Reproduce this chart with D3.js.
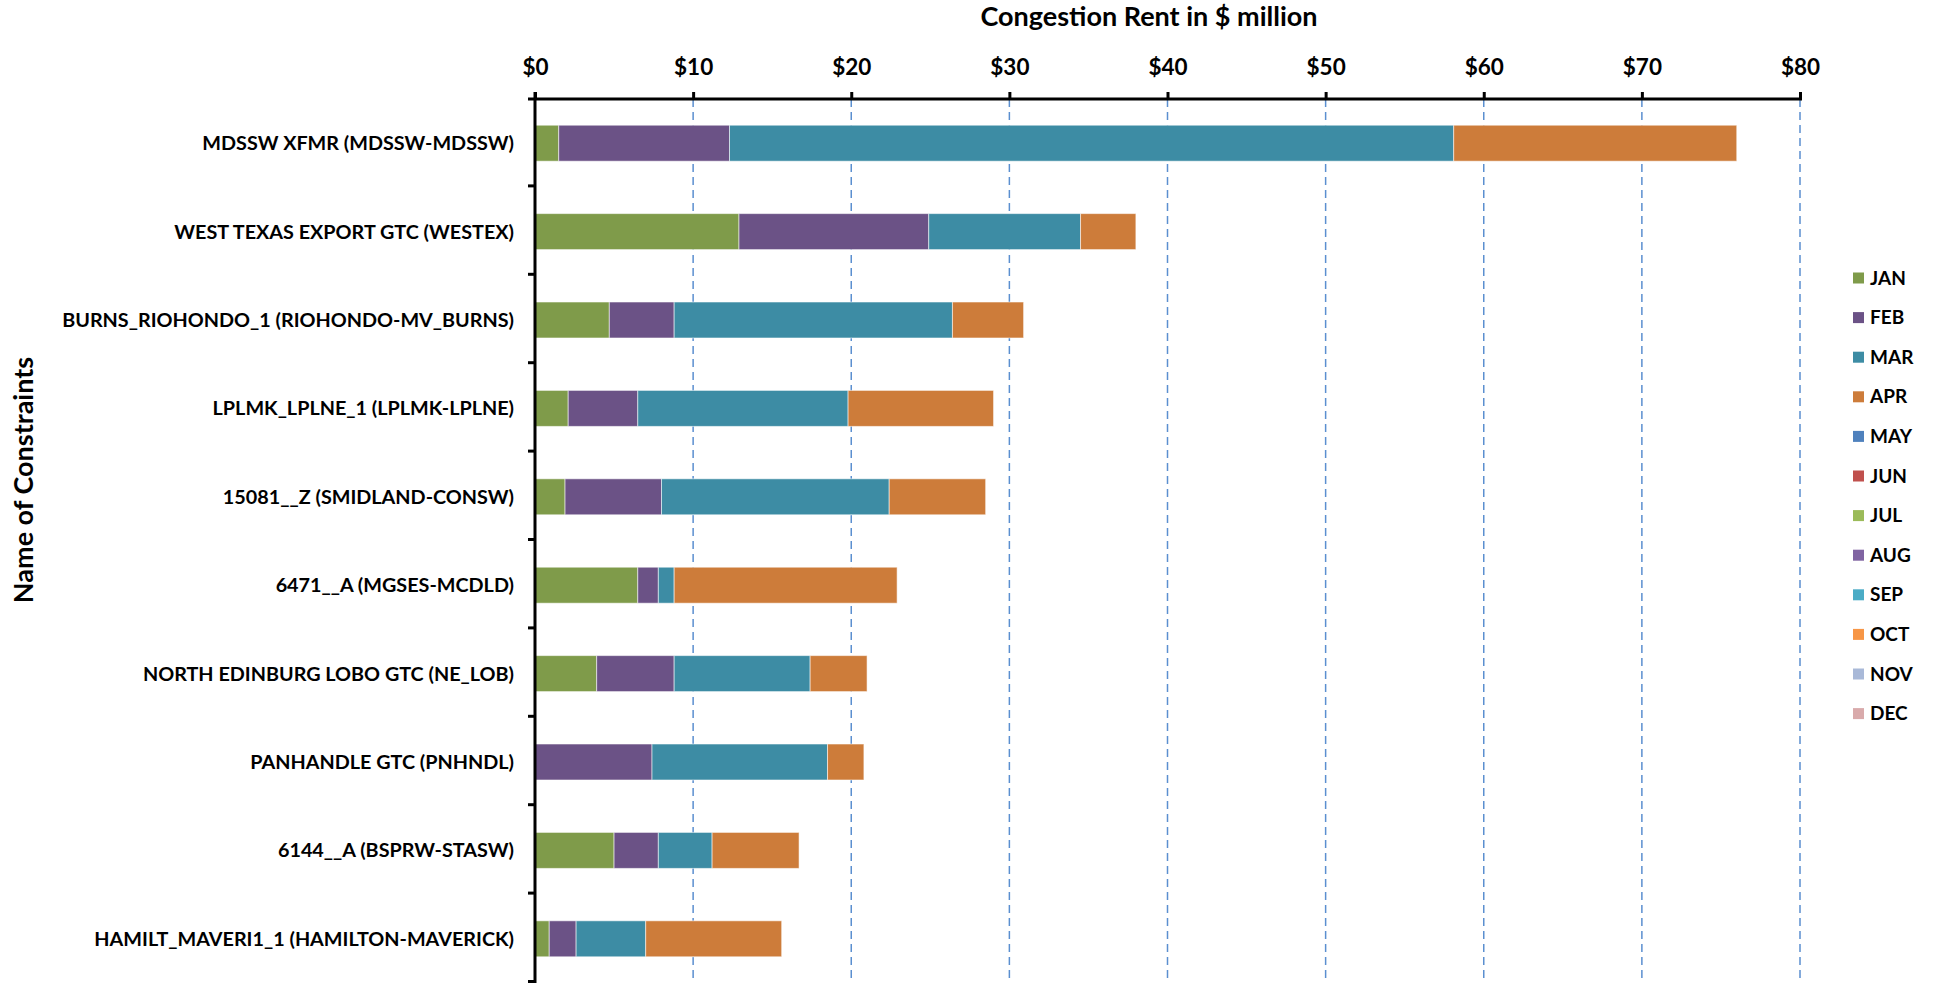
<!DOCTYPE html>
<html>
<head>
<meta charset="utf-8">
<script src="https://cdn.jsdelivr.net/npm/d3@7"></script>
<style>
  body { margin: 0; background: #fff; }
  svg text { font-family: Lato, "Open Sans", sans-serif; font-weight: bold; fill: #000; }
</style>
</head>
<body>
<div id="chart"></div>
<script>
(function() {
    const categories = [
        'MDSSW XFMR (MDSSW-MDSSW)',
        'WEST TEXAS EXPORT GTC (WESTEX)',
        'BURNS_RIOHONDO_1 (RIOHONDO-MV_BURNS)',
        'LPLMK_LPLNE_1 (LPLMK-LPLNE)',
        '15081__Z (SMIDLAND-CONSW)',
        '6471__A (MGSES-MCDLD)',
        'NORTH EDINBURG LOBO GTC (NE_LOB)',
        'PANHANDLE GTC (PNHNDL)',
        '6144__A (BSPRW-STASW)',
        'HAMILT_MAVERI1_1 (HAMILTON-MAVERICK)'
    ];
    const months = ['JAN', 'FEB', 'MAR', 'APR', 'MAY', 'JUN', 'JUL', 'AUG', 'SEP', 'OCT', 'NOV', 'DEC'];
    const monthColors = ['#7f9b4a', '#6b5286', '#3d8ca4', '#cd7c3a', '#4f81bd', '#c0504d',
                         '#9bbb59', '#8064a2', '#4bacc6', '#f79646', '#a9b9d8', '#d9aaab'];

    // congestion rent, $ million, one array per month (same order as categories)
    const jan = [1.5, 12.9, 4.7, 2.1, 1.9, 6.5, 3.9, 0, 5.0, 0.9];
    const feb = [10.8, 12.0, 4.1, 4.4, 6.1, 1.3, 4.9, 7.4, 2.8, 1.7];
    const mar = [45.8, 9.6, 17.6, 13.3, 14.4, 1.0, 8.6, 11.1, 3.4, 4.4];
    const apr = [17.9, 3.5, 4.5, 9.2, 6.1, 14.1, 3.6, 2.3, 5.5, 8.6];
    const may = [0, 0, 0, 0, 0, 0, 0, 0, 0, 0];
    const jun = [0, 0, 0, 0, 0, 0, 0, 0, 0, 0];
    const jul = [0, 0, 0, 0, 0, 0, 0, 0, 0, 0];
    const aug = [0, 0, 0, 0, 0, 0, 0, 0, 0, 0];
    const sep = [0, 0, 0, 0, 0, 0, 0, 0, 0, 0];
    const oct = [0, 0, 0, 0, 0, 0, 0, 0, 0, 0];
    const nov = [0, 0, 0, 0, 0, 0, 0, 0, 0, 0];
    const dec = [0, 0, 0, 0, 0, 0, 0, 0, 0, 0];
    const xTicks = [0, 10, 20, 30, 40, 50, 60, 70, 80];

    const series = [jan, feb, mar, apr, may, jun, jul, aug, sep, oct, nov, dec];
    const rows = categories.map((c, i) => {
        const r = { name: c };
        months.forEach((m, j) => { r[m] = series[j][i]; });
        return r;
    });

    const W = 1938, H = 985;
    const margin = { top: 99, right: 138, bottom: 2, left: 535 };
    const svg = d3.select('#chart').append('svg').attr('width', W).attr('height', H);

    const x = d3.scaleLinear().domain([0, 80]).range([margin.left, W - margin.right]);
    const y = d3.scaleBand().domain(categories).range([margin.top, H - margin.bottom])
        .paddingInner(0.593).paddingOuter(0.2965);
    const color = d3.scaleOrdinal().domain(months).range(monthColors);

    // dashed gridlines
    svg.append('g').selectAll('line').data(xTicks.filter(d => d > 0)).enter().append('line')
        .attr('x1', d => x(d)).attr('x2', d => x(d))
        .attr('y1', margin.top).attr('y2', H - margin.bottom)
        .attr('stroke', '#5b8fd0').attr('stroke-width', 1.5).attr('stroke-dasharray', '8,5');

    // stacked bars
    const stacked = d3.stack().keys(months)(rows);
    svg.append('g').selectAll('g').data(stacked).enter().append('g')
        .attr('fill', d => color(d.key))
        .selectAll('rect').data(d => d.filter(p => p[1] - p[0] > 0)).enter().append('rect')
        .attr('x', d => x(d[0])).attr('width', d => x(d[1]) - x(d[0]))
        .attr('y', d => y(d.data.name)).attr('height', y.bandwidth())
        .attr('stroke', '#ffffff').attr('stroke-opacity', 0.55).attr('stroke-width', 1);

    // top axis
    const xAxis = svg.append('g').attr('transform', `translate(0, ${margin.top})`)
        .call(d3.axisTop(x).tickValues(xTicks).tickSize(7).tickPadding(17).tickFormat(d => '$' + d));
    xAxis.select('.domain').attr('stroke', '#000').attr('stroke-width', 3)
        .attr('d', `M${x(0) - 7},0H${x(80) + 2}`);
    xAxis.selectAll('.tick line').attr('stroke', '#000').attr('stroke-width', 3);
    xAxis.selectAll('.tick text').style('font-size', '22.5px').style('font-family', 'Lato, sans-serif').style('font-weight', 'bold');

    // left axis: line, ticks between categories, labels
    const yAxis = svg.append('g');
    yAxis.append('line').attr('x1', x(0)).attr('x2', x(0))
        .attr('y1', margin.top - 7).attr('y2', H - margin.bottom)
        .attr('stroke', '#000').attr('stroke-width', 3);
    const bounds = d3.range(categories.length + 1).map(i => y.range()[0] + i * y.step());
    yAxis.selectAll('line.tk').data(bounds.slice(1)).enter().append('line').attr('class', 'tk')
        .attr('x1', x(0) - 7).attr('x2', x(0)).attr('y1', d => d - 1.5).attr('y2', d => d - 1.5)
        .attr('stroke', '#000').attr('stroke-width', 3);
    yAxis.selectAll('text').data(categories).enter().append('text')
        .attr('x', x(0) - 21).attr('y', d => y(d) + y.bandwidth() / 2).attr('dy', '0.35em')
        .attr('text-anchor', 'end').style('font-size', '19.8px').text(d => d);

    // titles
    svg.append('text').attr('x', 1149).attr('y', 17).attr('dy', '0.35em').attr('text-anchor', 'middle')
        .style('font-size', '27px').text('Congestion Rent in $ million');
    svg.append('text').attr('transform', 'translate(24, 480) rotate(-90)').attr('dy', '0.35em')
        .attr('text-anchor', 'middle').style('font-size', '27px').text('Name of Constraints');

    // legend
    const legend = svg.append('g').attr('transform', 'translate(1853, 278)');
    const item = legend.selectAll('g').data(months).enter().append('g')
        .attr('transform', (d, i) => `translate(0, ${i * 39.6})`);
    item.append('rect').attr('x', 0).attr('y', -5.5).attr('width', 11).attr('height', 11).attr('fill', d => color(d));
    item.append('text').attr('x', 17).attr('y', 0).attr('dy', '0.35em').style('font-size', '19px').text(d => d);
})();
</script>
</body>
</html>
